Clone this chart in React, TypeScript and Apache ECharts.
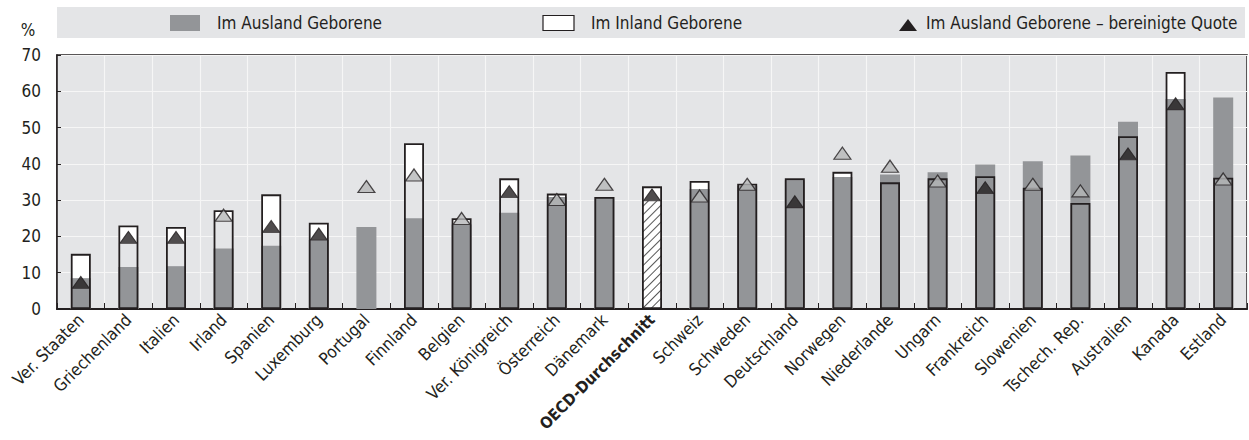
import React, { useEffect, useRef } from "react";
import * as echarts from "echarts";

const categories = [
  "Ver. Staaten", "Griechenland", "Italien", "Irland", "Spanien", "Luxemburg", "Portugal",
  "Finnland", "Belgien", "Ver. Königreich", "Österreich", "Dänemark", "OECD-Durchschnitt",
  "Schweiz", "Schweden", "Deutschland", "Norwegen", "Niederlande", "Ungarn", "Frankreich",
  "Slowenien", "Tschech. Rep.", "Australien", "Kanada", "Estland",
];
const foreignBorn = [
  8.5, 11.6, 11.8, 16.7, 17.4, 19.0, 22.6, 25.0, 23.3, 26.5, 30.9, 30.9, 29.8,
  33.1, 34.0, 35.5, 36.4, 37.1, 37.7, 39.8, 40.7, 42.3, 51.6, 57.9, 58.3,
];
const nativeBorn = [
  15.2, 23.0, 22.6, 27.2, 31.6, 23.8, null, 45.7, 25.0, 36.0, 31.8, 30.9, 33.8,
  35.3, 34.5, 36.0, 37.8, 34.9, 36.0, 36.6, 33.4, 29.2, 47.6, 65.3, 36.2,
];
const adjustedForeign = [
  5.7, 18.1, 18.1, 24.2, 21.1, 19.0, 32.1, 35.3, 23.3, 30.7, 28.5, 32.7, 29.8,
  29.5, 32.7, 27.9, 41.3, 37.7, 33.6, 31.8, 32.7, 30.9, 41.1, 54.9, 34.2,
];
const adjustedBlack = [
  true, true, true, false, true, true, false, false, false, true, false, false, true,
  false, false, true, false, false, false, true, false, false, true, true, false,
];
const yTicks = [0, 10, 20, 30, 40, 50, 60, 70];
const legendLabels = ["Im Ausland Geborene", "Im Inland Geborene", "Im Ausland Geborene – bereinigte Quote"];

const FONT = "'Liberation Sans Narrow', 'DejaVu Sans Condensed', 'Liberation Sans', sans-serif";
const BG = "#e4e5e7";
const DARK = "#231f20";
const GRAY = "#939598";
const LIGHTTRI = "#b5b6b8";
const OECD = "OECD-Durchschnitt";

export default function App() {
  const ref = useRef<HTMLDivElement>(null);
  useEffect(() => {
    if (!ref.current) return;
    const chart = echarts.init(ref.current, undefined, { renderer: "svg" });
    const barW = 20;
    const lightData = adjustedForeign.map((a, i) => {
      const n = nativeBorn[i];
      return n != null && a < n && a > foreignBorn[i] ? a : null;
    });
    chart.setOption({
      animation: false,
      textStyle: { fontFamily: FONT },
      grid: {
        left: 57, right: 2, top: 55, bottom: 131, outerBoundsMode: "none", containLabel: false,
        show: true, backgroundColor: BG, borderColor: DARK, borderWidth: 1.6,
      },
      xAxis: {
        type: "category",
        data: categories,
        axisLine: { lineStyle: { color: DARK, width: 2 } },
        axisTick: { show: true, inside: true, length: 6, lineStyle: { color: DARK } },
        splitLine: { show: true, lineStyle: { color: "#f6f6f6", width: 1.2 } },
        axisLabel: {
          rotate: 45, margin: 8, fontSize: 17, color: DARK, fontFamily: FONT, interval: 0,
          formatter: (v: string) => (v === OECD ? "{b|" + v + "}" : v),
          rich: { b: { fontWeight: "bold", fontSize: 16, fontFamily: FONT, color: DARK } },
        },
      },
      yAxis: {
        type: "value", min: yTicks[0], max: yTicks[yTicks.length - 1], interval: 10,
        axisLine: { show: true, lineStyle: { color: DARK, width: 1.6 } },
        axisTick: { show: true, inside: true, length: 4, lineStyle: { color: DARK } },
        splitLine: { show: true, lineStyle: { color: "#f6f6f6", width: 1.2 } },
        axisLabel: { margin: 16, fontSize: 17, color: DARK, fontFamily: FONT },
      },
      series: [
        {
          type: "bar", name: "nativeFill", data: nativeBorn, barWidth: barW, barGap: "-100%",
          itemStyle: { color: "#ffffff" }, silent: true,
        },
        {
          type: "bar", name: "light", data: lightData, barWidth: barW, barGap: "-100%",
          itemStyle: { color: BG }, silent: true,
        },
        {
          type: "bar", name: legendLabels[0], barWidth: barW, barGap: "-100%",
          data: foreignBorn.map((v, i) =>
            categories[i] === OECD
              ? {
                  value: v,
                  itemStyle: {
                    color: "#ffffff",
                    decal: {
                      symbol: "rect", symbolSize: 1, color: "#555",
                      dashArrayX: [1, 0], dashArrayY: [1, 5], rotation: -Math.PI / 4,
                    },
                  },
                }
              : v
          ),
          itemStyle: { color: GRAY },
        },
        {
          type: "bar", name: legendLabels[1], data: nativeBorn, barWidth: barW, barGap: "-100%",
          itemStyle: { color: "rgba(0,0,0,0)", borderColor: DARK, borderWidth: 1.8 },
        },
        {
          type: "scatter", name: legendLabels[2], symbol: "triangle", symbolSize: [17, 12],
          symbolOffset: [0, -6],
          data: adjustedForeign.map((v, i) => ({
            value: v,
            itemStyle: adjustedBlack[i]
              ? { color: DARK, borderColor: DARK, borderWidth: 1 }
              : { color: LIGHTTRI, borderColor: DARK, borderWidth: 1.2 },
          })),
          z: 5,
        },
      ],
      graphic: [
        { type: "rect", shape: { x: 57, y: 7, width: 1188, height: 31 }, style: { fill: BG }, silent: true },
        { type: "rect", shape: { x: 170, y: 15, width: 30, height: 16 }, style: { fill: GRAY } },
        {
          type: "text", x: 217, y: 23,
          style: { text: legendLabels[0], fill: DARK, font: `17px ${FONT}`, verticalAlign: "middle" },
        },
        {
          type: "rect", shape: { x: 543, y: 15.5, width: 31, height: 15 },
          style: { fill: "#ffffff", stroke: DARK, lineWidth: 1.2 },
        },
        {
          type: "text", x: 591, y: 23,
          style: { text: legendLabels[1], fill: DARK, font: `17px ${FONT}`, verticalAlign: "middle" },
        },
        {
          type: "polygon", shape: { points: [[899, 31], [917, 31], [908, 19]] },
          style: { fill: DARK },
        },
        {
          type: "text", x: 926, y: 23,
          style: { text: legendLabels[2], fill: DARK, font: `17px ${FONT}`, verticalAlign: "middle" },
        },
        {
          type: "text", x: 28, y: 30,
          style: { text: "%", fill: DARK, font: `17px ${FONT}`, align: "center", verticalAlign: "middle" },
        },
      ],
    });
    return () => chart.dispose();
  }, []);
  return (
    <div
      ref={ref}
      style={{ position: "fixed", left: 0, top: 0, width: 1249, height: 440, background: "#fff" }}
    />
  );
}
